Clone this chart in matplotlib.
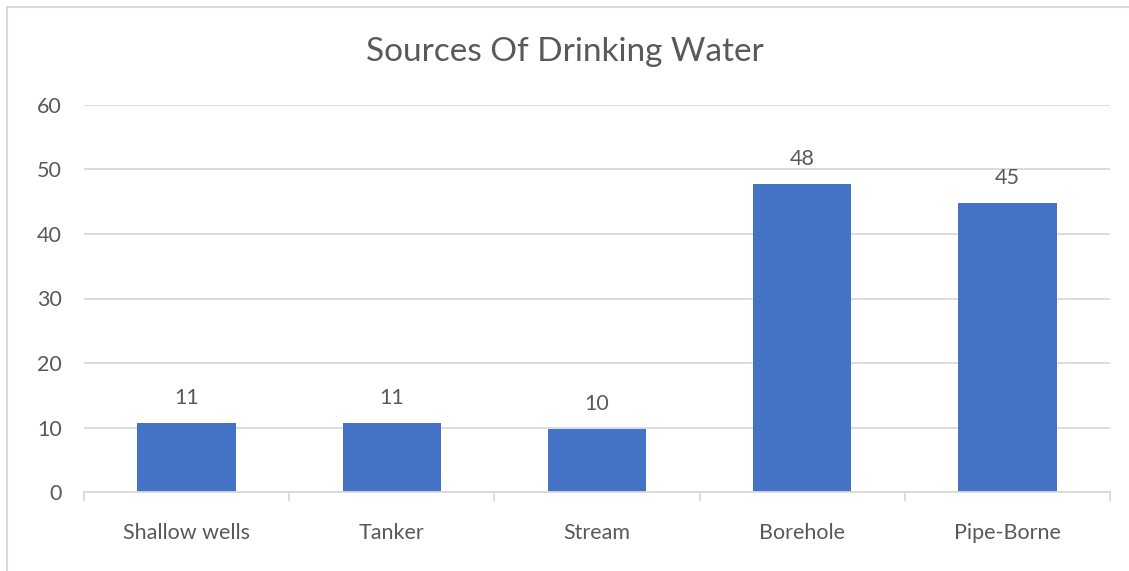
import matplotlib.pyplot as plt
from matplotlib.patches import Rectangle

categories = ['Shallow wells', 'Tanker', 'Stream', 'Borehole', 'Pipe-Borne']
values = [10.7, 10.7, 9.7, 47.7, 44.8]
yticks = [0, 10, 20, 30, 40, 50, 60]

plt.rcParams['font.family'] = ['Lato', 'DejaVu Sans']
txt = '#595959'
grid = '#d9d9d9'

fig = plt.figure(figsize=(11.29, 5.71), dpi=100)
ax = fig.add_axes([84/1129, 1-492/571, (1110-84)/1129, (492-105)/571])

x = list(range(len(categories)))
bars = ax.bar(x, values, width=0.48, color='#4472c4', zorder=3)
ax.bar_label(bars, labels=['%.0f' % v for v in values], padding=11,
             fontsize=15.5, color=txt)

ax.set_xlim(-0.5, len(categories)-0.5)
ax.set_ylim(0, 60)
ax.set_yticks(yticks)
ax.set_xticks(x)
ax.set_xticklabels(categories, fontsize=15.5, color=txt)
ax.tick_params(axis='x', length=0, pad=22)
ax.tick_params(axis='y', length=0, pad=16, labelsize=15.5, labelcolor=txt)
ax.yaxis.grid(True, color=grid, linewidth=1.3, zorder=0)
for s in ['top', 'right', 'left']:
    ax.spines[s].set_visible(False)
ax.spines['bottom'].set_color(grid)
ax.spines['bottom'].set_linewidth(1.3)
ax.spines['bottom'].set_zorder(4)
# category boundary tick marks
for b in [i - 0.5 for i in range(len(categories)+1)]:
    ax.plot([b, b], [0, -1.3], color=grid, linewidth=1.3, clip_on=False, zorder=4)

fig.text(0.5, 1-52/571, 'Sources Of Drinking Water', ha='center', va='center',
         fontsize=24, color=txt)

# chart border
fig.patches.append(Rectangle((7/1129, -0.05), 1.2, 1-7/571+0.05, transform=fig.transFigure,
                             fill=False, edgecolor=grid, linewidth=1.5))

fig.savefig('out.png', dpi=100)
